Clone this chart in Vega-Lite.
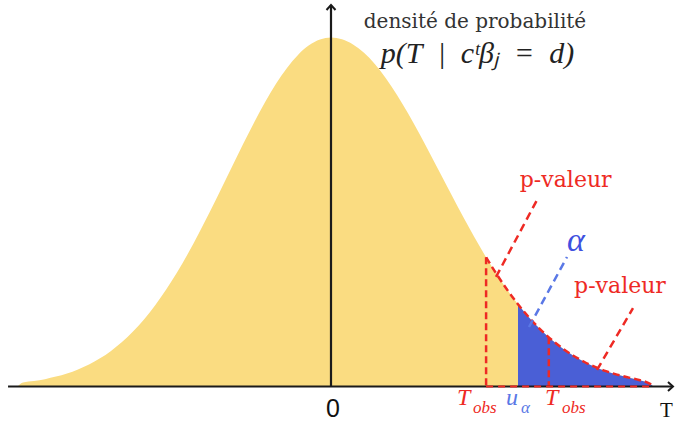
{
  "$schema": "https://vega.github.io/schema/vega-lite/v6.json",
  "width": 675,
  "height": 423,
  "autosize": {"type": "none"},
  "padding": 0,
  "background": "white",
  "config": {"view": {"stroke": null}},
  "datasets": {
    "curve": [
      {"T": -2.85, "d": 0.0},
      {"T": -2.8, "d": 0.0045},
      {"T": -2.7, "d": 0.0062},
      {"T": -2.6, "d": 0.0084},
      {"T": -2.5, "d": 0.0113},
      {"T": -2.4, "d": 0.0149},
      {"T": -2.3, "d": 0.0195},
      {"T": -2.2, "d": 0.0252},
      {"T": -2.1, "d": 0.0322},
      {"T": -2.0, "d": 0.0407},
      {"T": -1.9, "d": 0.0508},
      {"T": -1.8, "d": 0.0628},
      {"T": -1.7, "d": 0.0766},
      {"T": -1.6, "d": 0.0925},
      {"T": -1.5, "d": 0.1105},
      {"T": -1.4, "d": 0.1303},
      {"T": -1.3, "d": 0.152},
      {"T": -1.2, "d": 0.1754},
      {"T": -1.1, "d": 0.2},
      {"T": -1.0, "d": 0.2254},
      {"T": -0.9, "d": 0.2513},
      {"T": -0.8, "d": 0.2769},
      {"T": -0.7, "d": 0.3016},
      {"T": -0.6, "d": 0.3248},
      {"T": -0.5, "d": 0.3459},
      {"T": -0.4, "d": 0.3641},
      {"T": -0.3, "d": 0.379},
      {"T": -0.2, "d": 0.3899},
      {"T": -0.1, "d": 0.3966},
      {"T": 0.0, "d": 0.3989},
      {"T": 0.1, "d": 0.397},
      {"T": 0.2, "d": 0.391},
      {"T": 0.3, "d": 0.3814},
      {"T": 0.4, "d": 0.3683},
      {"T": 0.5, "d": 0.3521},
      {"T": 0.6, "d": 0.3332},
      {"T": 0.7, "d": 0.3123},
      {"T": 0.8, "d": 0.2897},
      {"T": 0.9, "d": 0.2661},
      {"T": 1.0, "d": 0.242},
      {"T": 1.1, "d": 0.2179},
      {"T": 1.2, "d": 0.1942},
      {"T": 1.3, "d": 0.1714},
      {"T": 1.4, "d": 0.1497},
      {"T": 1.41, "d": 0.1476},
      {"T": 1.5, "d": 0.1295},
      {"T": 1.6, "d": 0.1109},
      {"T": 1.7, "d": 0.094},
      {"T": 1.8, "d": 0.079},
      {"T": 1.9, "d": 0.0656},
      {"T": 1.98, "d": 0.0562},
      {"T": 2.0, "d": 0.054},
      {"T": 2.1, "d": 0.044},
      {"T": 2.2, "d": 0.0355},
      {"T": 2.3, "d": 0.0283},
      {"T": 2.4, "d": 0.0224},
      {"T": 2.5, "d": 0.0175},
      {"T": 2.6, "d": 0.0136},
      {"T": 2.7, "d": 0.0104},
      {"T": 2.8, "d": 0.0075},
      {"T": 2.9, "d": 0.003},
      {"T": 2.93, "d": 0.0}
    ],
    "tobs": [
      {"T": 1.41, "d": 0.1476},
      {"T": 1.98, "d": 0.0562}
    ],
    "pointers": [
      {"seg": "p1", "kind": "p", "T": 1.5, "d": 0.1252},
      {"seg": "p1", "kind": "p", "T": 1.8727, "d": 0.2132},
      {"seg": "p2", "kind": "p", "T": 2.4182, "d": 0.0189},
      {"seg": "p2", "kind": "p", "T": 2.7455, "d": 0.0897},
      {"seg": "a", "kind": "a", "T": 1.8, "d": 0.068},
      {"seg": "a", "kind": "a", "T": 2.1455, "d": 0.148}
    ]
  },
  "layer": [
    {
      "data": {"name": "curve"},
      "mark": {"type": "area", "color": "#FADC81", "interpolate": "monotone"},
      "encoding": {
        "x": {"field": "T", "type": "quantitative", "scale": {"domain": [-3.00909, 3.12727], "nice": false, "zero": false}, "axis": null},
        "y": {"field": "d", "type": "quantitative", "scale": {"domain": [-0.04172, 0.44176], "nice": false, "zero": false}, "axis": null}
      }
    },
    {
      "data": {"name": "curve"},
      "transform": [{"filter": "datum.T >= 1.7"}],
      "mark": {"type": "area", "color": "#4A5FD6", "interpolate": "monotone"},
      "encoding": {
        "x": {"field": "T", "type": "quantitative"},
        "y": {"field": "d", "type": "quantitative"}
      }
    },
    {
      "data": {"name": "tobs"},
      "mark": {"type": "rule", "color": "#EE2A24", "strokeWidth": 2.5, "strokeDash": [7, 4]},
      "encoding": {
        "x": {"field": "T", "type": "quantitative"},
        "y": {"field": "d", "type": "quantitative"},
        "y2": {"datum": 0}
      }
    },
    {
      "data": {"values": [{"x1": -2.936, "x2": 3.109, "y": 0}]},
      "mark": {"type": "rule", "color": "#1a1a1a", "strokeWidth": 2.2},
      "encoding": {
        "x": {"field": "x1", "type": "quantitative"},
        "x2": {"field": "x2"},
        "y": {"field": "y", "type": "quantitative"}
      }
    },
    {
      "data": {"values": [{"x": 0, "y1": 0, "y2": 0.436}]},
      "mark": {"type": "rule", "color": "#1a1a1a", "strokeWidth": 2.2},
      "encoding": {
        "x": {"field": "x", "type": "quantitative"},
        "y": {"field": "y1", "type": "quantitative"},
        "y2": {"field": "y2"}
      }
    },
    {
      "data": {"values": [{"x1": 1.41, "x2": 2.93, "y": 0}]},
      "mark": {"type": "rule", "color": "#EE2A24", "strokeWidth": 2, "strokeDash": [7, 5]},
      "encoding": {
        "x": {"field": "x1", "type": "quantitative"},
        "x2": {"field": "x2"},
        "y": {"field": "y", "type": "quantitative"}
      }
    },
    {
      "data": {"name": "curve"},
      "transform": [{"filter": "datum.T >= 1.41"}],
      "mark": {"type": "line", "color": "#EE2A24", "strokeWidth": 2.5, "strokeDash": [7, 4], "interpolate": "monotone"},
      "encoding": {
        "x": {"field": "T", "type": "quantitative"},
        "y": {"field": "d", "type": "quantitative"}
      }
    },
    {
      "data": {"name": "pointers"},
      "mark": {"type": "line", "strokeWidth": 2.5, "strokeDash": [8, 5]},
      "encoding": {
        "x": {"field": "T", "type": "quantitative"},
        "y": {"field": "d", "type": "quantitative"},
        "detail": {"field": "seg"},
        "color": {"field": "kind", "type": "nominal", "scale": {"domain": ["p", "a"], "range": ["#EE2A24", "#5A78E6"]}, "legend": null}
      }
    },
    {
      "data": {"values": [{"T": 3.109, "d": 0, "dir": "right"}]},
      "mark": {"type": "point", "shape": "M-1,-0.9L0,0L-1,0.9", "filled": false, "color": "#1a1a1a", "strokeWidth": 2, "size": 100, "opacity": 1},
      "encoding": {
        "x": {"field": "T", "type": "quantitative"},
        "y": {"field": "d", "type": "quantitative"}
      }
    },
    {
      "data": {"values": [{"T": 0, "d": 0.436, "dir": "up"}]},
      "mark": {"type": "point", "shape": "M-0.9,1L0,0L0.9,1", "filled": false, "color": "#1a1a1a", "strokeWidth": 2, "size": 100, "opacity": 1},
      "encoding": {
        "x": {"field": "T", "type": "quantitative"},
        "y": {"field": "d", "type": "quantitative"}
      }
    },
    {
      "data": {"values": [{"label": "densité de probabilité", "T": 1.309, "d": 0.4094}]},
      "mark": {"type": "text", "font": "DejaVu Serif", "fontSize": 20, "color": "#333333", "align": "center", "baseline": "alphabetic"},
      "encoding": {
        "x": {"field": "T", "type": "quantitative"},
        "y": {"field": "d", "type": "quantitative"},
        "text": {"field": "label"}
      }
    },
    {
      "data": {"values": [{"label": "p(T\u2002|\u2002cᵗβⱼ\u2002=\u2002d)", "T": 1.332, "d": 0.3694}]},
      "mark": {"type": "text", "font": "Liberation Serif", "fontStyle": "italic", "fontSize": 30, "color": "#222222", "align": "center", "baseline": "alphabetic"},
      "encoding": {
        "x": {"field": "T", "type": "quantitative"},
        "y": {"field": "d", "type": "quantitative"},
        "text": {"field": "label"}
      }
    },
    {
      "data": {"values": [
        {"label": "p-valeur", "T": 2.1336, "d": 0.228},
        {"label": "p-valeur", "T": 2.627, "d": 0.1065}
      ]},
      "mark": {"type": "text", "font": "DejaVu Serif", "fontSize": 22, "color": "#EE2A24", "align": "center", "baseline": "alphabetic"},
      "encoding": {
        "x": {"field": "T", "type": "quantitative"},
        "y": {"field": "d", "type": "quantitative"},
        "text": {"field": "label"}
      }
    },
    {
      "data": {"values": [{"label": "α", "T": 2.2273, "d": 0.1549}]},
      "mark": {"type": "text", "font": "Liberation Serif", "fontStyle": "italic", "fontSize": 34, "color": "#3F51E0", "align": "center", "baseline": "alphabetic"},
      "encoding": {
        "x": {"field": "T", "type": "quantitative"},
        "y": {"field": "d", "type": "quantitative"},
        "text": {"field": "label"}
      }
    },
    {
      "data": {"values": [{"label": "0", "T": 0.018, "d": -0.03486}]},
      "mark": {"type": "text", "font": "Liberation Sans", "fontSize": 25, "color": "#111111", "align": "center", "baseline": "alphabetic"},
      "encoding": {
        "x": {"field": "T", "type": "quantitative"},
        "y": {"field": "d", "type": "quantitative"},
        "text": {"field": "label"}
      }
    },
    {
      "data": {"values": [
        {"label": "T", "kind": "p", "T": 1.145, "d": -0.02115},
        {"label": "u", "kind": "a", "T": 1.591, "d": -0.02115},
        {"label": "T", "kind": "p", "T": 1.945, "d": -0.02115}
      ]},
      "mark": {"type": "text", "font": "Liberation Serif", "fontStyle": "italic", "fontSize": 24, "align": "left", "baseline": "alphabetic"},
      "encoding": {
        "x": {"field": "T", "type": "quantitative"},
        "y": {"field": "d", "type": "quantitative"},
        "text": {"field": "label"},
        "color": {"field": "kind", "type": "nominal", "scale": {"domain": ["p", "a"], "range": ["#EE2A24", "#3F51E0"]}, "legend": null}
      }
    },
    {
      "data": {"values": [
        {"label": "obs", "kind": "p", "T": 1.29, "d": -0.03029},
        {"label": "α", "kind": "a", "T": 1.7273, "d": -0.03029},
        {"label": "obs", "kind": "p", "T": 2.1, "d": -0.03029}
      ]},
      "mark": {"type": "text", "font": "Liberation Serif", "fontStyle": "italic", "fontSize": 17, "align": "left", "baseline": "alphabetic"},
      "encoding": {
        "x": {"field": "T", "type": "quantitative"},
        "y": {"field": "d", "type": "quantitative"},
        "text": {"field": "label"},
        "color": {"field": "kind", "type": "nominal", "scale": {"domain": ["p", "a"], "range": ["#EE2A24", "#3F51E0"]}, "legend": null}
      }
    },
    {
      "data": {"values": [{"label": "T", "T": 2.9909, "d": -0.03486}]},
      "mark": {"type": "text", "font": "Liberation Serif", "fontSize": 21, "color": "#111111", "align": "left", "baseline": "alphabetic"},
      "encoding": {
        "x": {"field": "T", "type": "quantitative"},
        "y": {"field": "d", "type": "quantitative"},
        "text": {"field": "label"}
      }
    }
  ]
}
